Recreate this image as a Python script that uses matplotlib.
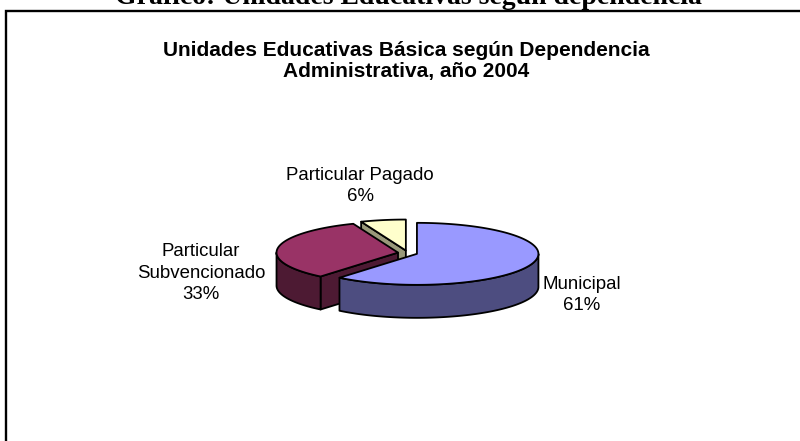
import numpy as np
import matplotlib
matplotlib.use('Agg')
import matplotlib.pyplot as plt
from matplotlib.patches import Polygon

# data
categories = ['Municipal', 'Particular\nSubvencionado', 'Particular Pagado']
shares = [61, 33, 6]

# colours (top face, side face)
top_colors = ['#9999FF', '#993366', '#FFFFCC']
side_colors = ['#4D4D80', '#4D1A33', '#99997A']

# layout of the 3d pie, in pixels (axes is set up as pixel space)
cx, cy = 407.7, 253.0
rx, ry = 121.5, 31.0
depth = 33.0
explode = 9.8
label_pos = [(582, 295), (201, 273), (360, 186)]

fig = plt.figure(figsize=(8, 4.41), dpi=100)
ax = fig.add_axes([0, 0, 1, 1])
ax.set_xlim(0, 800)
ax.set_ylim(441, 0)
ax.axis('off')

edge_kw = dict(edgecolor='black', linewidth=1.3, joinstyle='round')


def rim(theta, ox, oy):
    return ox + rx * np.cos(theta), oy - ry * np.sin(theta)


# slice angles, clockwise from 12 o'clock
total = float(sum(shares))
cum = np.cumsum([0] + shares) / total * 360.0
slices = []
for i, v in enumerate(shares):
    a_hi = np.radians(90 - cum[i])
    a_lo = np.radians(90 - cum[i + 1])
    mid = (a_lo + a_hi) / 2
    ox = cx + explode * np.cos(mid)
    oy = cy - explode * (ry / rx) * np.sin(mid)
    slices.append((i, a_lo, a_hi, mid, ox, oy))

# back slices first
order = sorted(slices, key=lambda s: -np.sin(s[3]))

for i, a_lo, a_hi, mid, ox, oy in order:
    # radial faces that look towards the viewer
    for ang, ny in ((a_hi, np.cos(a_hi)), (a_lo, -np.cos(a_lo))):
        if ny < -1e-6:
            px, py = rim(ang, ox, oy)
            face = [(ox, oy), (px, py), (px, py + depth), (ox, oy + depth)]
            ax.add_patch(Polygon(face, closed=True, facecolor=side_colors[i], **edge_kw))

    # curved outer side, front part only
    th = np.linspace(a_lo, a_hi, 600)
    front = np.sin(th) <= 1e-9
    runs = []
    start = None
    for k, f in enumerate(front):
        if f and start is None:
            start = k
        if (not f or k == len(front) - 1) and start is not None:
            end = k if f else k - 1
            runs.append((start, end))
            start = None
    for s, e in runs:
        t = th[s:e + 1]
        xs, ys = rim(t, ox, oy)
        pts = list(zip(xs, ys)) + list(zip(xs[::-1], ys[::-1] + depth))
        ax.add_patch(Polygon(pts, closed=True, facecolor=side_colors[i], **edge_kw))

    # top face
    xs, ys = rim(th, ox, oy)
    pts = [(ox, oy)] + list(zip(xs, ys))
    ax.add_patch(Polygon(pts, closed=True, facecolor=top_colors[i], **edge_kw))

# slice labels
for i, name in enumerate(categories):
    pct = round(shares[i] / total * 100)
    ax.text(label_pos[i][0], label_pos[i][1], f'{name}\n{pct}%', ha='center', va='center',
            fontsize=13.4, family='Liberation Sans', linespacing=1.36)

# chart title
ax.text(406, 61, 'Unidades Educativas Básica según Dependencia\nAdministrativa, año 2004',
        ha='center', va='center', fontsize=15, fontweight='bold',
        family='Liberation Sans', linespacing=1.15)

# document caption, cut off by the top edge
ax.text(408, 3.5, 'Gráfico: Unidades Educativas según dependencia', ha='center',
        va='baseline', fontsize=20, fontweight='bold', family='Liberation Serif')

# chart frame (left and top edges visible)
ax.plot([6, 6, 800], [441, 10.5, 10.5], color='black', linewidth=1.7,
        solid_joinstyle='miter', clip_on=False)

plt.savefig('out.png', dpi=100)
